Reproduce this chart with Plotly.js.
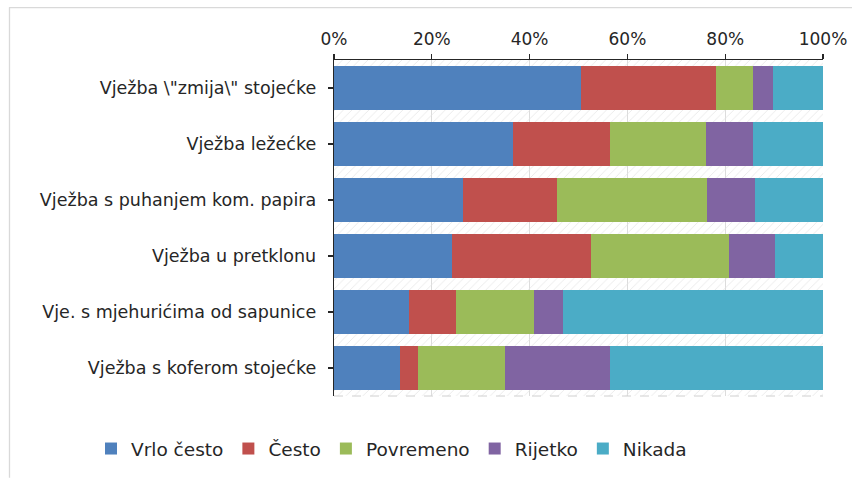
<!DOCTYPE html>
<html>
<head>
<meta charset="utf-8">
<script src="https://cdn.plot.ly/plotly-3.0.1.min.js"></script>
<style>html,body{margin:0;padding:0;background:#fff;}#chart{width:852px;height:479px;}</style>
</head>
<body>
<div id="chart"></div>
<script>
const categories = [
  'Vježba \\"zmija\\" stojećke',
  'Vježba ležećke',
  'Vježba s puhanjem kom. papira',
  'Vježba u pretklonu',
  'Vje. s mjehurićima od sapunice',
  'Vježba s koferom stojećke'
];
const seriesNames = ['Vrlo često', 'Često', 'Povremeno', 'Rijetko', 'Nikada'];
const vrloCesto = [50.6, 36.7, 26.4, 24.1, 15.4, 13.4];
const cesto     = [27.5, 19.7, 19.3, 28.5,  9.6,  3.8];
const povremeno = [ 7.5, 19.7, 30.6, 28.2, 15.8, 17.8];
const rijetko   = [ 4.2,  9.5,  9.7,  9.4,  6.0, 21.4];
const nikada    = [10.2, 14.4, 14.0,  9.8, 53.2, 43.6];
const seriesValues = [vrloCesto, cesto, povremeno, rijetko, nikada];
const colors = ['#4f81bd', '#c0504d', '#9bbb59', '#8064a2', '#4bacc6'];
const tickVals = [0, 20, 40, 60, 80, 100];

const font = 'DejaVu Sans, Verdana, sans-serif';

// decorative hatched background (on hidden base axes)
const bg = {
  type: 'bar', orientation: 'h', x: [1], y: [0.5], width: [1], base: [0],
  xaxis: 'x', yaxis: 'y', showlegend: false, hoverinfo: 'skip',
  marker: {color: 'rgba(255,255,255,0)', line: {width: 0},
           pattern: {shape: '/', fgcolor: '#e3e3e3', bgcolor: 'rgba(255,255,255,0)', size: 6, solidity: 0.12}}
};

const traces = [bg];
seriesNames.forEach((name, i) => {
  traces.push({
    type: 'bar', orientation: 'h', name: name,
    x: seriesValues[i], y: categories,
    xaxis: 'x2', yaxis: 'y2',
    marker: {color: colors[i], line: {width: 0}},
    hoverinfo: 'x+y+name'
  });
});

const L = 334, R = 823, T = 60, B = 397, W = 852, H = 479;
const px = v => (v - L) / (R - L);
const py = v => (B - v) / (B - T);

const layout = {
  width: W, height: H,
  margin: {l: L, r: W - R, t: T, b: H - B, pad: 0},
  paper_bgcolor: '#ffffff', plot_bgcolor: '#ffffff',
  barmode: 'stack', bargap: 0.23,
  font: {family: font, size: 17, color: '#262626'},
  xaxis: {range: [0, 1], visible: false, fixedrange: true},
  yaxis: {range: [0, 1], visible: false, fixedrange: true},
  xaxis2: {
    overlaying: 'x', side: 'top', range: [0, 100],
    tickvals: tickVals, ticktext: tickVals.map(v => v + '%'),
    ticks: 'outside', ticklen: 5, tickcolor: '#262626', tickwidth: 1.3,
    showline: true, linecolor: '#262626', linewidth: 1.3,
    showgrid: true, gridcolor: '#dcdcdc', gridwidth: 1,
    zeroline: false, ticklabelstandoff: 2,
    tickfont: {family: font, size: 17, color: '#262626'}
  },
  yaxis2: {
    overlaying: 'y', type: 'category', autorange: 'reversed',
    ticks: 'outside', ticklen: 5, tickcolor: '#262626', tickwidth: 1.3,
    showline: true, linecolor: '#262626', linewidth: 1.3,
    showgrid: false, zeroline: false, ticklabelstandoff: 8,
    tickfont: {family: font, size: 17.5, color: '#262626'}
  },
  legend: {
    orientation: 'h', x: px(91), xanchor: 'left', y: py(449), yanchor: 'middle',
    font: {family: font, size: 18.5, color: '#262626'},
    traceorder: 'normal', itemwidth: 30, bgcolor: 'rgba(0,0,0,0)'
  },
  shapes: [
    {type: 'line', xref: 'paper', yref: 'paper', x0: px(9), x1: px(852), y0: py(7.5), y1: py(7.5), line: {color: '#d9d9d9', width: 1.3}},
    {type: 'line', xref: 'paper', yref: 'paper', x0: px(9.5), x1: px(9.5), y0: py(7), y1: py(479), line: {color: '#d9d9d9', width: 1.3}},
    {type: 'line', xref: 'paper', yref: 'paper', x0: 0, x1: 1, y0: 0, y1: 0, line: {color: '#d0d0d0', width: 1, dash: 'dash'}}
  ]
};

Plotly.newPlot('chart', traces, layout, {displayModeBar: false, staticPlot: true});
</script>
</body>
</html>
